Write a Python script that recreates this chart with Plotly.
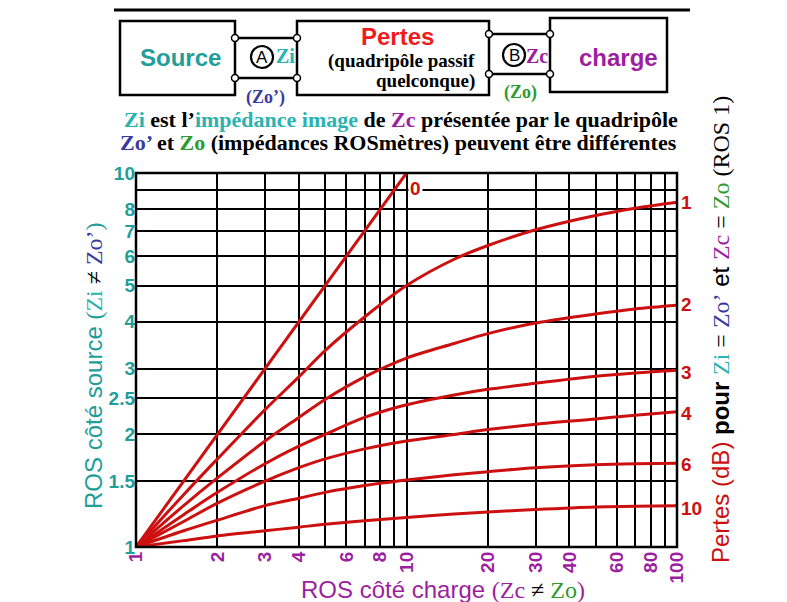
import plotly.graph_objects as go

# ---------------- data ----------------
ros_charge = [1, 1.5, 2, 3, 4, 5, 7, 10, 15, 20, 30, 50, 70, 100]
loss_0_x = [1, 10]
loss_0_y = [1, 10]
loss_1 = [1, 1.38, 1.72, 2.33, 2.85, 3.35, 4.12, 5.00, 5.88, 6.40, 7.05, 7.70, 8.05, 8.35]
loss_2 = [1, 1.29, 1.53, 1.92, 2.22, 2.48, 2.85, 3.20, 3.50, 3.72, 3.97, 4.20, 4.33, 4.43]
loss_3 = [1, 1.22, 1.40, 1.67, 1.86, 2.00, 2.22, 2.40, 2.55, 2.64, 2.74, 2.86, 2.92, 2.97]
loss_4 = [1, 1.17, 1.31, 1.50, 1.63, 1.72, 1.83, 1.92, 2.00, 2.06, 2.13, 2.20, 2.25, 2.30]
loss_6 = [1, 1.105, 1.18, 1.29, 1.35, 1.40, 1.46, 1.51, 1.56, 1.59, 1.63, 1.66, 1.67, 1.675]
loss_10 = [1, 1.04, 1.07, 1.105, 1.13, 1.15, 1.175, 1.20, 1.225, 1.24, 1.26, 1.28, 1.285, 1.29]
loss_labels = ["0", "1", "2", "3", "4", "6", "10"]

x_tickvals = [1, 2, 3, 4, 5, 6, 7, 8, 9, 10, 20, 30, 40, 50, 60, 70, 80, 90, 100]
x_ticktext = ["1", "2", "3", "4", "", "6", "", "8", "", "10", "20", "30", "40", "", "60", "", "80", "", "100"]
y_tickvals = [1, 1.5, 2, 2.5, 3, 4, 5, 6, 7, 8, 9, 10]
y_ticktext = ["1", "1.5", "2", "2.5", "3", "4", "5", "6", "7", "8", "", "10"]

# ---------------- colours / fonts ----------------
RED = "#cc1010"
TEAL = "#1f9e9a"
CYAN = "#2ab3b0"
BLUE = "#3a3a9e"
PURPLE = "#9c1fa0"
GREEN = "#2e9a2e"
SANS = "Liberation Sans, Arial, sans-serif"
SERIF = "Liberation Serif, Times New Roman, serif"

W, H = 787, 602
L, R, T, B = 136, 110, 173, 55
PW, PH = W - L - R, H - T - B


def px(x):
    return (x - L) / PW


def py(y):
    return (H - B - y) / PH


fig = go.Figure()

series = [(loss_0_x, loss_0_y)] + [(ros_charge, s) for s in (loss_1, loss_2, loss_3, loss_4, loss_6, loss_10)]
for (xs, ys), name in zip(series, loss_labels):
    fig.add_trace(go.Scatter(x=xs, y=ys, mode="lines", name=name,
                             line=dict(color=RED, width=3, shape="spline", smoothing=0.9),
                             showlegend=False, hoverinfo="skip"))

shapes = []
# plot frame
shapes.append(dict(type="rect", xref="paper", yref="paper", x0=0, x1=1, y0=0, y1=1,
                   line=dict(color="black", width=2.5), layer="above"))
# top line
shapes.append(dict(type="line", xref="paper", yref="paper", x0=px(114), x1=px(690), y0=py(10), y1=py(10),
                   line=dict(color="black", width=3)))


def rect(x0, y0, x1, y1, w=2.5):
    shapes.append(dict(type="rect", xref="paper", yref="paper", x0=px(x0), x1=px(x1),
                       y0=py(y1), y1=py(y0), line=dict(color="black", width=w)))


def line(x0, y0, x1, y1, w=2.5):
    shapes.append(dict(type="line", xref="paper", yref="paper", x0=px(x0), x1=px(x1),
                       y0=py(y0), y1=py(y1), line=dict(color="black", width=w)))


def circle(cx, cy, r, w=1.5, fill="white"):
    shapes.append(dict(type="circle", xref="paper", yref="paper", x0=px(cx - r), x1=px(cx + r),
                       y0=py(cy + r), y1=py(cy - r), line=dict(color="black", width=w), fillcolor=fill))


# boxes
rect(120, 21, 235, 95)
rect(297, 21, 489, 95)
rect(550, 18, 667, 92)
# connecting wires
line(235, 38, 297, 38)
line(235, 78, 297, 78)
line(489, 34, 550, 34)
line(489, 74, 550, 74)
for (cx, cy) in [(235, 38), (235, 78), (297, 38), (297, 78), (489, 34), (489, 74), (550, 34), (550, 74)]:
    circle(cx, cy, 3.5)
# A, B circles
circle(262, 57, 11, w=2.2)
circle(514, 55, 11, w=2.2)

ann = []


def text(x, y, t, size, color="black", family=SANS, angle=0, xanchor="center", bg=None):
    d = dict(x=px(x), y=py(y), xref="paper", yref="paper", text=t, showarrow=False,
             font=dict(size=size, color=color, family=family), textangle=angle,
             xanchor=xanchor, yanchor="middle")
    if bg:
        d["bgcolor"] = bg
    ann.append(d)


text(180, 57, "<b>Source</b>", 24, TEAL)
text(262, 57, "A", 17)
text(285, 56, "<b>Zi</b>", 20, CYAN, SERIF)
text(265, 97, "<b>(Zo’)</b>", 18, BLUE, SERIF)
text(397, 36, "<b>Pertes</b>", 24, "#ee1c1c")
text(477, 61, "<b>(quadripôle passif</b>", 19, "black", SERIF, xanchor="right")
text(477, 81, "<b>quelconque)</b>", 19, "black", SERIF, xanchor="right")
text(514, 55, "B", 17)
text(537, 56, "<b>Zc</b>", 20, PURPLE, SERIF)
text(618, 57, "<b>charge</b>", 24, PURPLE)
text(520, 92, "<b>(Zo)</b>", 18, GREEN, SERIF)

text(401, 119,
     f"<b><span style='color:{CYAN}'>Zi</span> est l’<span style='color:{CYAN}'>impédance image</span> de "
     f"<span style='color:{PURPLE}'>Zc</span> présentée par le quadripôle</b>", 22, "black", SERIF)
text(398, 143,
     f"<b><span style='color:{BLUE}'>Zo’</span> et <span style='color:{GREEN}'>Zo</span> "
     f"(impédances ROSmètres) peuvent être différentes</b>", 22, "black", SERIF)

# axis titles
text(93, 366,
     f"ROS côté source <span style='font-family:{SERIF}'>(<span style='color:{CYAN}'>Zi</span> "
     f"<span style='color:black'>≠</span> <span style='color:{BLUE}'>Zo’</span>)</span>",
     24, TEAL, SANS, angle=-90)
text(443, 589,
     f"ROS côté charge <span style='font-family:{SERIF}'>(<span style='color:{PURPLE}'>Zc</span> "
     f"<span style='color:black'>≠</span> <span style='color:{GREEN}'>Zo</span>)</span>",
     24, PURPLE, SANS)
text(720, 330,
     f"<span style='color:{RED}'>Pertes (dB)</span> <b>pour</b> "
     f"<span style='font-family:{SERIF}'><span style='color:{CYAN}'>Zi</span> = "
     f"<span style='color:{BLUE}'>Zo’</span></span> et "
     f"<span style='font-family:{SERIF}'><span style='color:{PURPLE}'>Zc</span> = "
     f"<span style='color:{GREEN}'>Zo</span> (ROS 1)</span>",
     24, "black", SANS, angle=-90)

# curve labels
label_pos = [(415, 188), (686, 202), (686, 304), (686, 372), (686, 413), (686, 464), (691, 508)]
for lab, (x, y) in zip(loss_labels, label_pos):
    text(x, y, f"<b>{lab}</b>", 19, RED, SANS, bg="white" if lab == "0" else None)

fig.update_layout(
    width=W, height=H,
    margin=dict(l=L, r=R, t=T, b=B, pad=0),
    paper_bgcolor="white", plot_bgcolor="white",
    shapes=shapes, annotations=ann,
    xaxis=dict(type="log", range=[0, 2], tickvals=x_tickvals,
               ticktext=[f"<b>{t}</b>" if t else "" for t in x_ticktext],
               tickangle=-90, showgrid=True, gridcolor="black", gridwidth=2,
               zeroline=False, showline=False, ticks="", ticklen=0,
               tickfont=dict(family=SANS, size=19, color=PURPLE), automargin=False),
    yaxis=dict(type="log", range=[0, 1], tickvals=y_tickvals,
               ticktext=[f"<b>{t}</b>" if t else "" for t in y_ticktext],
               showgrid=True, gridcolor="black", gridwidth=2,
               zeroline=False, showline=False, ticks="", ticklen=0,
               tickfont=dict(family=SANS, size=19, color=TEAL), automargin=False),
)

fig.write_html("out.html")
